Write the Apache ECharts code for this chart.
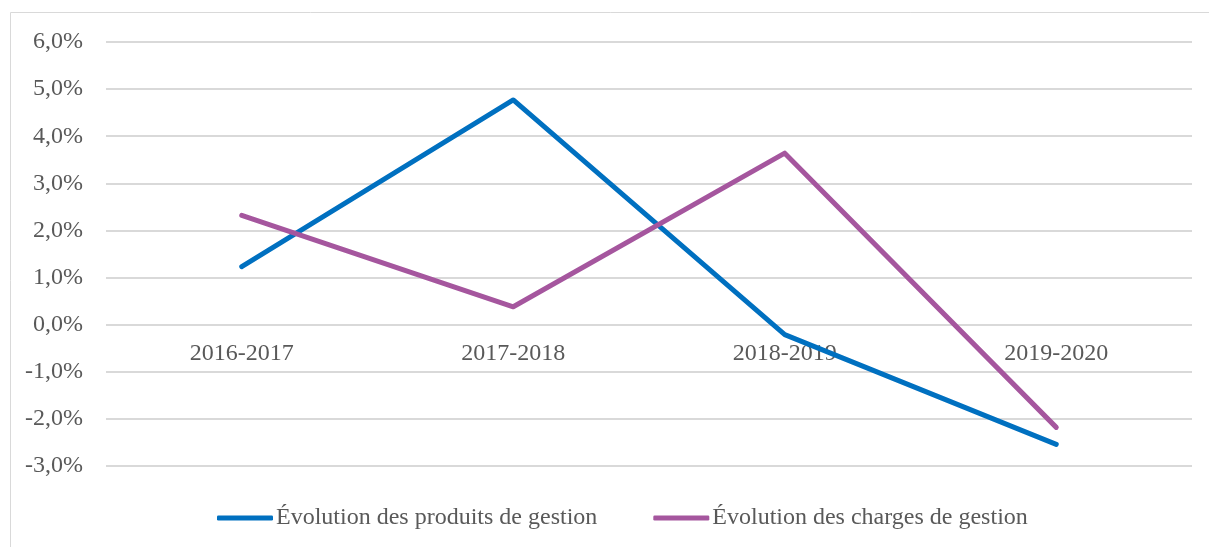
<!DOCTYPE html>
<html>
<head>
<meta charset="utf-8">
<script src="https://cdn.jsdelivr.net/npm/echarts@6/dist/echarts.min.js"></script>
<style>
    html, body { margin: 0; padding: 0; background: #fff; }
    #chart_01 { width: 1209px; height: 547px; }
</style>
</head>
<body>
<div id="chart_01"></div>
<script>
var categories = ['2016-2017', '2017-2018', '2018-2019', '2019-2020'];
var seriesNames = ['Évolution des produits de gestion', 'Évolution des charges de gestion'];
var produits = [1.23, 4.77, -0.21, -2.54];
var charges = [2.32, 0.38, 3.64, -2.18];

var font = '"Liberation Serif", "Times New Roman", serif';

var myChart = echarts.init(document.getElementById('chart_01'));
var option = {
    animation: false,
    graphic: [{
        type: 'rect',
        shape: { x: 10.5, y: 12.5, width: 1300, height: 600 },
        style: { fill: 'none', stroke: '#d9d9d9', lineWidth: 1 },
        silent: true
    }],
    grid: {
        left: 106,
        right: 17,
        top: 42,
        bottom: 81
    },
    legend: {
        bottom: 12,
        left: 212,
        itemWidth: 56,
        itemHeight: 5,
        itemGap: 56,
        icon: 'roundRect',
        textStyle: {
            fontFamily: font,
            fontSize: 24,
            color: '#595959',
            padding: [0, 0, 0, -2]
        },
        data: seriesNames
    },
    xAxis: {
        type: 'category',
        data: categories,
        position: 'bottom',
        offset: -141,
        axisLine: { show: false },
        axisTick: { show: false },
        axisLabel: {
            fontFamily: font,
            fontSize: 24,
            color: '#595959',
            margin: 17
        }
    },
    yAxis: {
        type: 'value',
        min: -3,
        max: 6,
        interval: 1,
        axisLine: { show: false },
        axisTick: { show: false },
        splitLine: { lineStyle: { color: '#d9d9d9', width: 2 } },
        axisLabel: {
            fontFamily: font,
            fontSize: 24,
            color: '#595959',
            margin: 23,
            padding: [4, 0, 0, 0],
            formatter: function (v) {
                return v.toFixed(1).replace('.', ',') + '%';
            }
        }
    },
    series: [
        {
            name: seriesNames[0],
            type: 'line',
            data: produits,
            symbol: 'none',
            color: '#0070c0',
            lineStyle: { width: 5, color: '#0070c0', cap: 'round', join: 'round' }
        },
        {
            name: seriesNames[1],
            type: 'line',
            data: charges,
            symbol: 'none',
            color: '#a5569e',
            lineStyle: { width: 5, color: '#a5569e', cap: 'round', join: 'round' }
        }
    ]
};
myChart.setOption(option);
window.addEventListener('resize', function () {
    myChart.resize();
});
</script>
</body>
</html>
